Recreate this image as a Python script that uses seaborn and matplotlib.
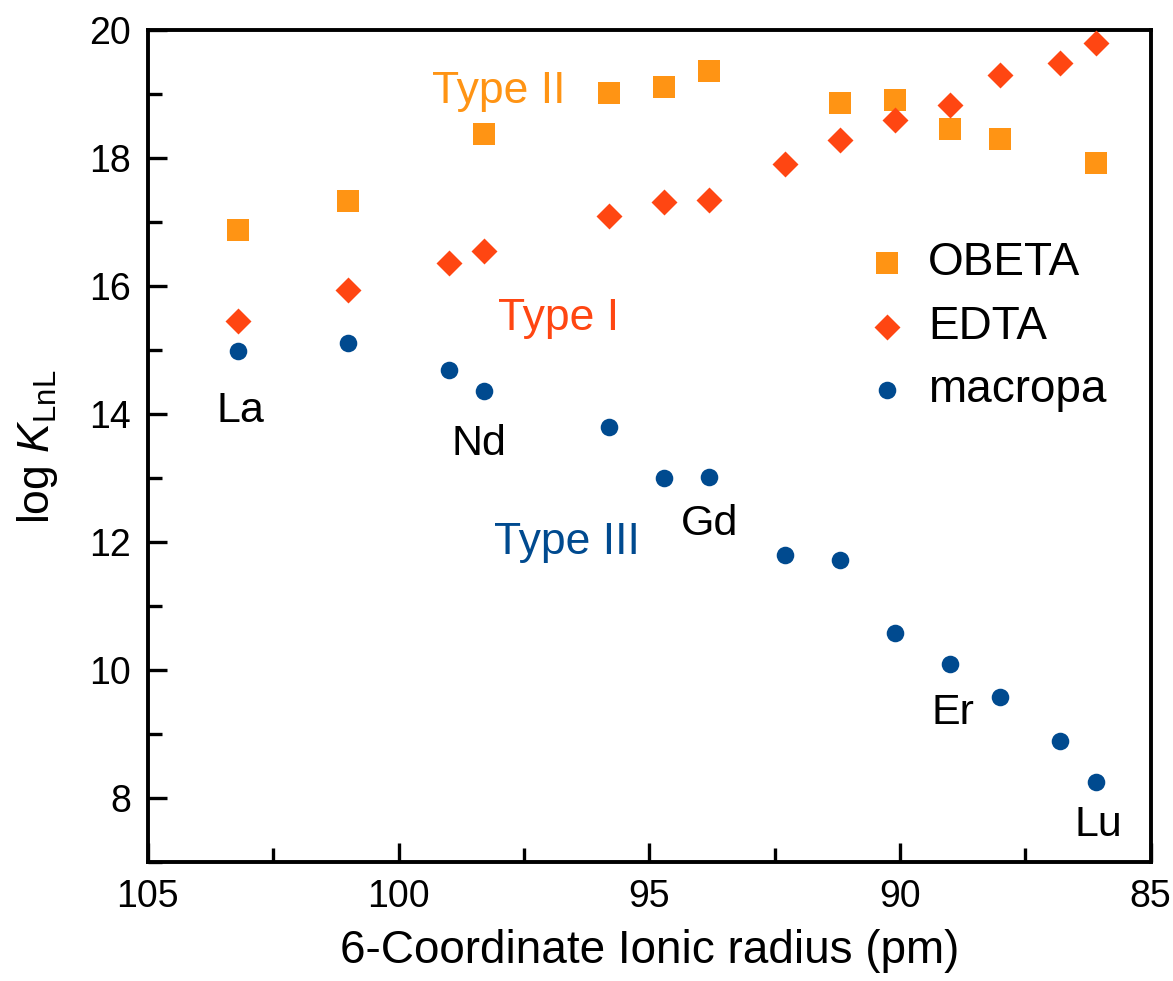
import numpy as np
import pandas as pd
import seaborn as sns
import matplotlib
matplotlib.use('Agg')
import matplotlib.pyplot as plt
from matplotlib.ticker import MultipleLocator

# 6-coordinate ionic radii (pm) and log K values
elements = ['La', 'Ce', 'Pr', 'Nd', 'Sm', 'Eu', 'Gd', 'Tb', 'Dy', 'Ho', 'Er', 'Tm', 'Yb', 'Lu']
radius = [103.2, 101.0, 99.0, 98.3, 95.8, 94.7, 93.8, 92.3, 91.2, 90.1, 89.0, 88.0, 86.8, 86.1]

obeta_el = ['La', 'Ce', 'Nd', 'Sm', 'Eu', 'Gd', 'Dy', 'Ho', 'Er', 'Tm', 'Lu']
obeta_logk = [16.88, 17.33, 18.38, 19.02, 19.12, 19.36, 18.87, 18.92, 18.46, 18.31, 17.93]

edta_logk = [15.46, 15.94, 16.36, 16.56, 17.10, 17.32, 17.35, 17.92, 18.28, 18.60, 18.83, 19.30, 19.49, 19.80]
macropa_logk = [14.99, 15.11, 14.70, 14.36, 13.80, 13.01, 13.02, 11.81, 11.72, 10.59, 10.10, 9.59, 8.89, 8.25]

ligands = ['OBETA', 'EDTA', 'macropa']
colors = {'OBETA': '#FF9414', 'EDTA': '#FF4612', 'macropa': '#004A8F'}
markers = {'OBETA': 's', 'EDTA': 'D', 'macropa': 'o'}
sizes = {'OBETA': 230, 'EDTA': 175, 'macropa': 160}

rad_of = dict(zip(elements, radius))
frames = [
    pd.DataFrame({'r': [rad_of[e] for e in obeta_el], 'logk': obeta_logk, 'ligand': 'OBETA'}),
    pd.DataFrame({'r': radius, 'logk': edta_logk, 'ligand': 'EDTA'}),
    pd.DataFrame({'r': radius, 'logk': macropa_logk, 'ligand': 'macropa'}),
]
df = pd.concat(frames, ignore_index=True)

sns.set_style('ticks', rc={'axes.edgecolor': 'black', 'text.color': 'black',
                           'axes.labelcolor': 'black', 'xtick.color': 'black',
                           'ytick.color': 'black'})
plt.rcParams['font.family'] = ['Liberation Sans', 'DejaVu Sans']
plt.rcParams['mathtext.fontset'] = 'custom'
plt.rcParams['mathtext.rm'] = 'Liberation Sans'
plt.rcParams['mathtext.it'] = 'Liberation Sans:italic'

fig = plt.figure(figsize=(11.73, 9.81), dpi=100)
ax = fig.add_axes([0.126, 0.121, 0.855, 0.848])

for lig in ligands:
    sub = df[df.ligand == lig]
    sns.scatterplot(data=sub, x='r', y='logk', color=colors[lig], marker=markers[lig],
                    s=sizes[lig], linewidth=0, ax=ax, label=lig, zorder=3)

ax.set_xlim(105, 85)
ax.set_ylim(7, 20)
ax.xaxis.set_major_locator(MultipleLocator(5))
ax.xaxis.set_minor_locator(MultipleLocator(2.5))
ax.yaxis.set_major_locator(MultipleLocator(2))
ax.yaxis.set_minor_locator(MultipleLocator(1))
ax.set_yticks([8, 10, 12, 14, 16, 18, 20])
ax.tick_params(which='both', direction='in', width=2.4, labelsize=27, top=False, right=False)
ax.tick_params(which='major', length=14, pad=12)
ax.tick_params(which='minor', length=10)
for sp in ax.spines.values():
    sp.set_linewidth(2.8)
    sp.set_visible(True)

ax.set_xlabel('6-Coordinate Ionic radius (pm)', fontsize=33, labelpad=10)
ax.set_ylabel(r'log $\mathit{K}_{\mathrm{LnL}}$', fontsize=32, labelpad=21)

# type labels
ax.text(98.0, 19.05, 'Type II', color=colors['OBETA'], fontsize=32, ha='center', va='center')
ax.text(96.8, 15.5, 'Type I', color=colors['EDTA'], fontsize=32, ha='center', va='center')
ax.text(96.65, 12.0, 'Type III', color=colors['macropa'], fontsize=32, ha='center', va='center')

# element labels
for name, x, y in [('La', 103.15, 14.05), ('Nd', 98.4, 13.54), ('Gd', 93.8, 12.28),
                   ('Er', 88.95, 9.33), ('Lu', 86.05, 7.58)]:
    ax.text(x, y, name, fontsize=31, ha='center', va='center')

leg = ax.legend(loc='center left', bbox_to_anchor=(0.70, 0.644), frameon=False, fontsize=33,
                handlelength=1.6, handletextpad=0.1, labelspacing=0.42, borderpad=0,
                borderaxespad=0, markerscale=1.0)

fig.savefig('out.png', dpi=100)
